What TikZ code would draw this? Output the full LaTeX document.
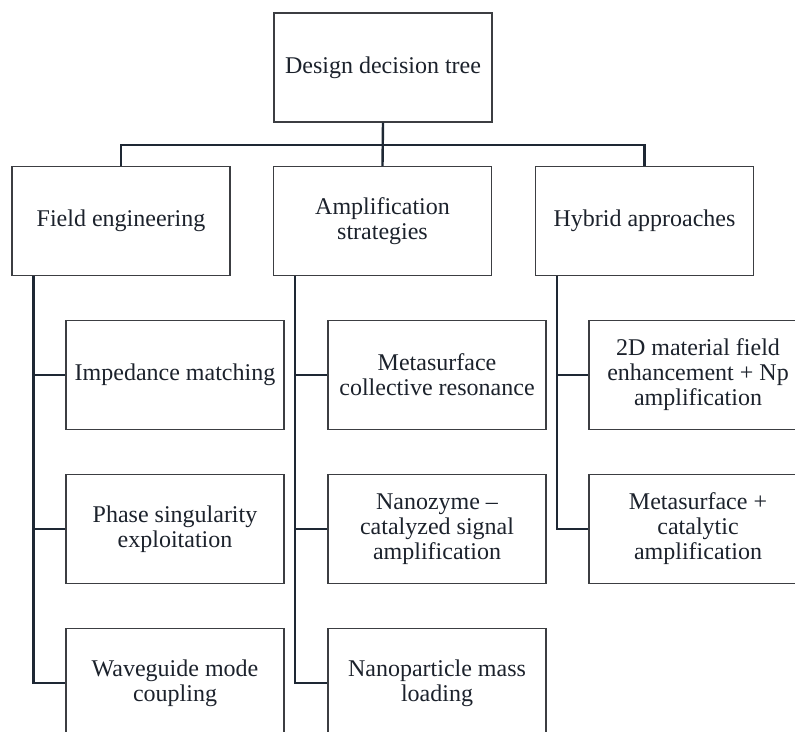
\documentclass[tikz,border=0pt]{standalone}
\usepackage{fontspec}
\setmainfont{Liberation Serif}
\usetikzlibrary{calc}
\definecolor{linec}{RGB}{30,40,52}
\definecolor{boxc}{RGB}{60,62,66}
\definecolor{textc}{RGB}{28,34,44}
\begin{document}
\begin{tikzpicture}[x=1pt,y=1pt,
  box/.style={draw=boxc,line width=1.4pt,rectangle,minimum width=218pt,minimum height=109pt,
    align=center,text=textc,font=\fontsize{24}{25}\selectfont,inner sep=2pt},
  conn/.style={draw=linec,line width=2.4pt,line cap=butt}]
\useasboundingbox (0,0) rectangle (795,-731);
\clip (0,0) rectangle (795,-731);
\fill[white] (0,0) rectangle (795,-731);
% root and level 1
\node[box] (root) at (383,-67.5) {Design decision tree};
\node[box] (field) at (121,-221) {Field engineering};
\node[box] (amp) at (382.5,-221) {Amplification\\strategies};
\node[box] (hyb) at (644.5,-221) {Hybrid approaches};
% level 2
\node[box] (imp) at (175,-375) {Impedance matching};
\node[box] (phase) at (175,-529) {Phase singularity\\exploitation};
\node[box] (wave) at (175,-683) {Waveguide mode\\coupling};
\node[box] (meta) at (437,-375) {Metasurface\\collective resonance};
\node[box] (nano) at (437,-529) {Nanozyme –\\catalyzed signal\\amplification};
\node[box] (mass) at (437,-683) {Nanoparticle mass\\loading};
\node[box] (twod) at (698,-375) {2D material field\\enhancement + Np\\amplification};
\node[box] (metacat) at (698,-529) {Metasurface +\\catalytic\\amplification};
% connectors top
\coordinate (bus) at (383,-145);
\draw[conn] (root.south) -- (amp.north);
\draw[conn] (field.north) |- (bus) -| (hyb.north);
% trunks
\coordinate (tf) at ($(field.south west)+(22,0)$);
\coordinate (ta) at ($(amp.south west)+(22,0)$);
\coordinate (th) at ($(hyb.south west)+(22,0)$);
\draw[conn] (tf) |- (imp.west);
\draw[conn] (tf) |- (phase.west);
\draw[conn] (tf) |- (wave.west);
\draw[conn] (ta) |- (meta.west);
\draw[conn] (ta) |- (nano.west);
\draw[conn] (ta) |- (mass.west);
\draw[conn] (th) |- (twod.west);
\draw[conn] (th) |- (metacat.west);
\end{tikzpicture}
\end{document}
